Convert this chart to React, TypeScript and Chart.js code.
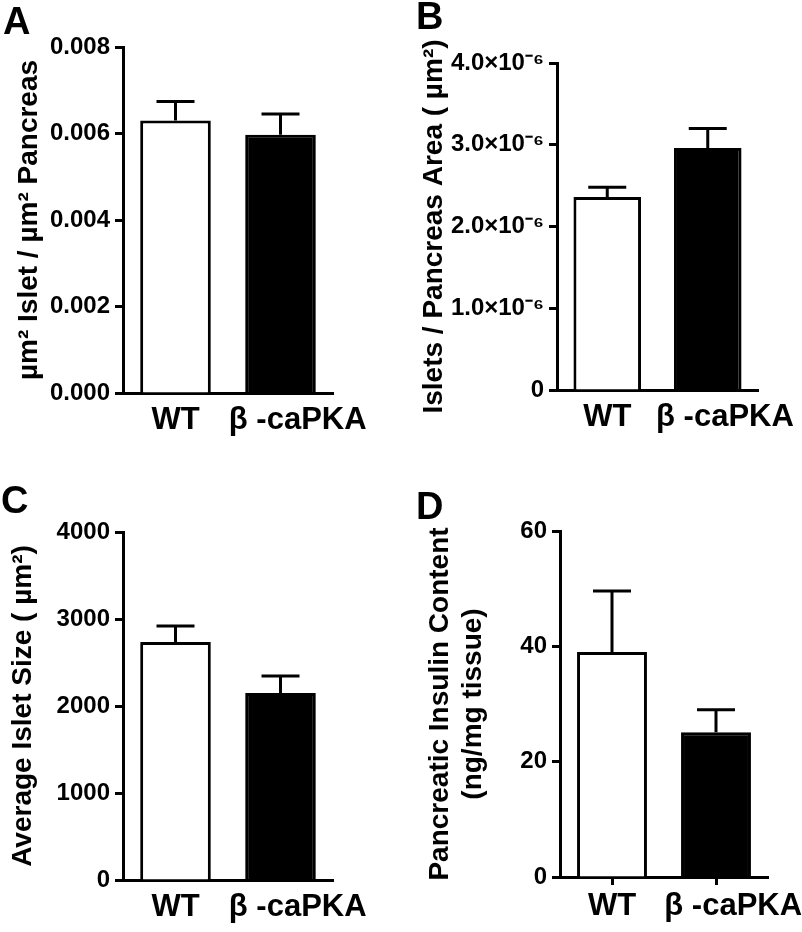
import React, { useEffect, useRef } from 'react';
import { Chart, registerables } from 'chart.js';
Chart.register(...registerables);

// second label carries leading no-break spaces: in the source the label sits right of the bar centre
const categories = ['WT', '\u00a0\u00a0\u00a0\u00a0β -caPKA'];

const isletAreaMean = [0.0063, 0.00597];
const isletAreaSem = [0.00044, 0.00048];
const isletAreaTicks = { max: 0.008, step: 0.002 };

const isletDensityMean = [2.36e-6, 2.96e-6];
const isletDensitySem = [0.12e-6, 0.24e-6];
const isletDensityTicks = { max: 4e-6, step: 1e-6 };

const isletSizeMean = [2736, 2149];
const isletSizeSem = [184, 196];
const isletSizeTicks = { max: 4000, step: 1000 };

const insulinMean = [39.0, 25.1];
const insulinSem = [10.6, 3.9];
const insulinTicks = { max: 60, step: 20 };

const FONT = "Arial, 'Liberation Sans', Helvetica, sans-serif";

const errPlugin = {
  id: 'errbars',
  afterDatasetsDraw(chart: any, _args: any, opts: any) {
    const ctx = chart.ctx;
    const meta = chart.getDatasetMeta(0);
    const ys = chart.scales.y;
    const means = chart.data.datasets[0].data as number[];
    const sem = (opts && opts.sem) || [];
    ctx.save();
    ctx.strokeStyle = '#000';
    ctx.lineWidth = 3;
    ctx.lineCap = 'butt';
    meta.data.forEach((el: any, i: number) => {
      const x = el.x;
      const y0 = ys.getPixelForValue(means[i]);
      const y1 = ys.getPixelForValue(means[i] + sem[i]);
      ctx.beginPath();
      ctx.moveTo(x, y0);
      ctx.lineTo(x, y1);
      ctx.moveTo(x - 19, y1);
      ctx.lineTo(x + 19, y1);
      ctx.stroke();
    });
    ctx.restore();
  },
};

type PanelCfg = {
  letter: string;
  left: number;
  top: number;
  w: number;
  h: number;
  area: { l: number; t: number; r: number; b: number };
  mean: number[];
  sem: number[];
  max: number;
  step: number;
  fmt: (v: number) => string;
  title: string | string[];
  titlePad: number;
  xTicks: boolean;
  xPad: number;
  letterX: number;
  letterY: number;
};

const panels: PanelCfg[] = [
  {
    letter: 'A', left: 0, top: 0, w: 401, h: 460,
    area: { l: 123, t: 47, r: 333, b: 393 },
    mean: isletAreaMean, sem: isletAreaSem,
    max: isletAreaTicks.max, step: isletAreaTicks.step,
    fmt: (v) => v.toFixed(3),
    title: 'µm² Islet / µm² Pancreas', titlePad: 12,
    xTicks: false, xPad: 9, letterX: 3, letterY: 2,
  },
  {
    letter: 'B', left: 401, top: 0, w: 401, h: 460,
    area: { l: 156, t: 63, r: 357, b: 390 },
    mean: isletDensityMean, sem: isletDensitySem,
    max: isletDensityTicks.max, step: isletDensityTicks.step,
    fmt: (v) => (v === 0 ? '0' : (v * 1e6).toFixed(1) + '×10⁻⁶'),
    title: 'Islets / Pancreas Area ( µm²)', titlePad: 16,
    xTicks: false, xPad: 9, letterX: 15, letterY: -3,
  },
  {
    letter: 'C', left: 0, top: 460, w: 401, h: 472,
    area: { l: 123, t: 72, r: 333, b: 420 },
    mean: isletSizeMean, sem: isletSizeSem,
    max: isletSizeTicks.max, step: isletSizeTicks.step,
    fmt: (v) => String(Math.round(v)),
    title: 'Average Islet Size ( µm²)', titlePad: 6,
    xTicks: false, xPad: 9, letterX: 1, letterY: 21,
  },
  {
    letter: 'D', left: 401, top: 460, w: 401, h: 472,
    area: { l: 159, t: 71, r: 367, b: 417 },
    mean: insulinMean, sem: insulinSem,
    max: insulinTicks.max, step: insulinTicks.step,
    fmt: (v) => String(Math.round(v)),
    title: ['Pancreatic Insulin Content', '(ng/mg tissue)'], titlePad: 22,
    xTicks: true, xPad: 3, letterX: 15, letterY: 27,
  },
];

function Panel({ cfg }: { cfg: PanelCfg }) {
  const ref = useRef<HTMLCanvasElement | null>(null);
  useEffect(() => {
    if (!ref.current) return;
    const { area, w, h } = cfg;
    const chart = new Chart(ref.current, {
      type: 'bar',
      data: {
        labels: categories,
        datasets: [
          {
            data: cfg.mean,
            backgroundColor: ['#ffffff', '#000000'],
            borderColor: '#000000',
            borderWidth: 3,
            barPercentage: 0.82,
            categoryPercentage: 0.82,
          },
        ],
      },
      options: {
        responsive: false,
        animation: false,
        devicePixelRatio: 1,
        layout: {
          autoPadding: false,
          padding: { top: area.t, left: 0, right: w - area.r, bottom: 0 },
        },
        plugins: {
          legend: { display: false },
          tooltip: { enabled: false },
          title: { display: false },
          errbars: { sem: cfg.sem },
        } as any,
        scales: {
          x: {
            type: 'category',
            offset: true,
            afterFit: (s: any) => {
              s.height = h - area.b;
              s.paddingLeft = 0;
              s.paddingRight = 0;
            },
            border: { display: true, color: '#000', width: 3 },
            grid: {
              display: cfg.xTicks,
              drawOnChartArea: false,
              drawTicks: cfg.xTicks,
              offset: false,
              tickLength: 8,
              tickWidth: 3,
              tickColor: '#000',
              color: '#000',
            },
            ticks: {
              color: '#000',
              padding: cfg.xPad,
              font: { family: FONT, size: 31, weight: 'bold' },
              maxRotation: 0,
              autoSkip: false,
            },
          },
          y: {
            type: 'linear',
            min: 0,
            max: cfg.max,
            afterFit: (s: any) => {
              s.width = area.l;
              s.paddingTop = 0;
              s.paddingBottom = 0;
            },
            border: { display: true, color: '#000', width: 3 },
            grid: {
              drawOnChartArea: false,
              drawTicks: true,
              tickLength: 8,
              tickWidth: 3,
              tickColor: '#000',
              color: '#000',
            },
            ticks: {
              stepSize: cfg.step,
              color: '#000',
              padding: 5,
              font: { family: FONT, size: 24, weight: 'bold' },
              callback: (v: any) => cfg.fmt(Number(v)),
            },
            title: {
              display: true,
              text: cfg.title,
              color: '#000',
              padding: { top: cfg.titlePad, bottom: 0 },
              font: { family: FONT, size: 28, weight: 'bold', lineHeight: 1.2 },
            },
          },
        },
      } as any,
      plugins: [errPlugin],
    });
    return () => chart.destroy();
  }, [cfg]);
  return (
    <div style={{ position: 'absolute', left: cfg.left, top: cfg.top, width: cfg.w, height: cfg.h }}>
      <canvas ref={ref} width={cfg.w} height={cfg.h} style={{ display: 'block', width: cfg.w, height: cfg.h }} />
      <div
        style={{
          position: 'absolute',
          left: cfg.letterX,
          top: cfg.letterY,
          font: `bold 38px ${FONT}`,
          lineHeight: '38px',
          color: '#000',
        }}
      >
        {cfg.letter}
      </div>
    </div>
  );
}

export default function App() {
  return (
    <div style={{ position: 'fixed', left: 0, top: 0, width: 802, height: 932, background: '#fff', overflow: 'hidden' }}>
      {panels.map((p) => (
        <Panel key={p.letter} cfg={p} />
      ))}
    </div>
  );
}
